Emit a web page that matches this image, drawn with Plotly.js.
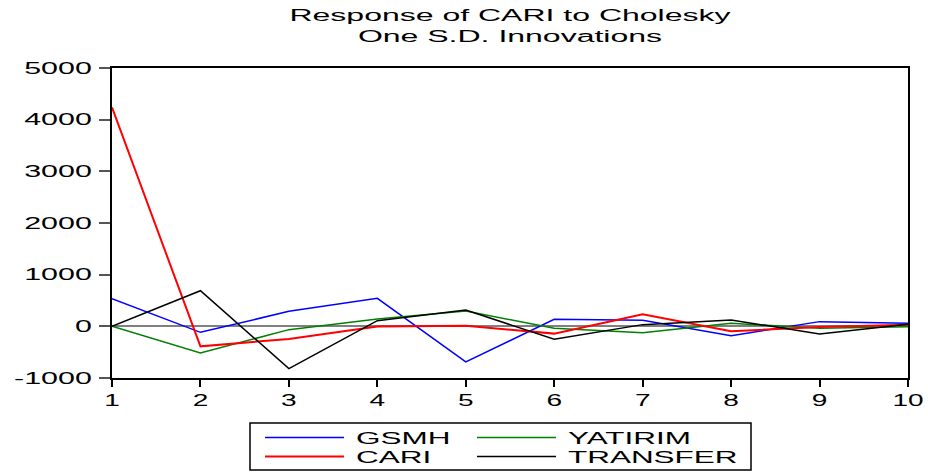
<!DOCTYPE html>
<html>
<head>
<meta charset="utf-8">
<script src="https://cdn.plot.ly/plotly-3.0.1.min.js"></script>
<style>
  html, body { margin: 0; padding: 0; background: #fff; }
  #chart { width: 928px; height: 473px; }
</style>
</head>
<body>
<div id="chart"></div>
<script>
const periods = [1, 2, 3, 4, 5, 6, 7, 8, 9, 10];
const gsmh     = [536, -116, 290, 542, -689, 135, 116, -180, 91, 58];
const yatirim  = [0, -516, -64, 143, 297, -39, -122, 58, -39, -10];
const cari     = [4236, -387, -244, -5, 13, -141, 232, -97, -13, 33];
const transfer = [0, 690, -818, 110, 317, -251, 33, 124, -147, 39];

const yTickVals = [-1000, 0, 1000, 2000, 3000, 4000, 5000];
const yTickText = ['-1000', '0', '1000', '2000', '3000', '4000', '5000'];
const xTickVals = [1, 2, 3, 4, 5, 6, 7, 8, 9, 10];
const xTickText = ['1', '2', '3', '4', '5', '6', '7', '8', '9', '10'];

const seriesNames = ['GSMH', 'YATIRIM', 'CARI', 'TRANSFER'];
const seriesData = [gsmh, yatirim, cari, transfer];
const seriesColors = ['#0000ff', '#008000', '#ff0000', '#000000'];
const seriesWidths = [1.5, 1.5, 2, 1.5];
const legendIds = ['legend', 'legend2', 'legend3', 'legend4'];

const font = 'Liberation Sans, Arial, sans-serif';

const traces = seriesNames.map((n, i) => ({
  x: periods,
  y: seriesData[i],
  name: n,
  type: 'scatter',
  mode: 'lines',
  line: { color: seriesColors[i], width: seriesWidths[i] },
  legend: legendIds[i],
  hoverinfo: 'skip'
}));

// plot area pixel geometry helpers
const L = 112, R = 908, T = 68, B = 378;
const px = v => (v - L) / (R - L);
const py = v => (B - v) / (B - T);

const legCommon = {
  xanchor: 'left', yanchor: 'middle',
  bgcolor: 'rgba(0,0,0,0)', borderwidth: 0,
  font: { family: font, size: 17, color: '#000' },
  itemwidth: 79,
  itemclick: false, itemdoubleclick: false
};

const layout = {
  width: 928, height: 473,
  margin: { l: L, r: 928 - R, t: T, b: 473 - B, autoexpand: false },
  paper_bgcolor: '#fff', plot_bgcolor: '#fff',
  showlegend: true,
  title: {
    text: 'Response of CARI to Cholesky<br>One S.D. Innovations',
    font: { family: font, size: 16, color: '#000' },
    xref: 'paper', x: 0.5, xanchor: 'center',
    yref: 'container', y: 0.955, yanchor: 'top'
  },
  xaxis: {
    range: [1, 10],
    tickvals: xTickVals, ticktext: xTickText,
    ticks: 'outside', ticklen: 7, tickwidth: 2, tickcolor: '#000',
    showline: true, linecolor: '#000', linewidth: 2, mirror: true,
    showgrid: false, zeroline: false,
    tickfont: { family: font, size: 16, color: '#000' }
  },
  yaxis: {
    range: [-1000, 5000],
    tickvals: yTickVals, ticktext: yTickText,
    ticks: 'outside', ticklen: 11, tickwidth: 2, tickcolor: '#555',
    showline: true, linecolor: '#000', linewidth: 2, mirror: true,
    showgrid: false,
    zeroline: true, zerolinecolor: '#808080', zerolinewidth: 2,
    tickfont: { family: font, size: 16, color: '#000' },
    ticklabelstandoff: 4
  },
  legend:  Object.assign({}, legCommon, { x: px(260), y: py(438) }),
  legend2: Object.assign({}, legCommon, { x: px(472), y: py(438) }),
  legend3: Object.assign({}, legCommon, { x: px(260), y: py(457) }),
  legend4: Object.assign({}, legCommon, { x: px(472), y: py(457) }),
  shapes: [{
    type: 'rect', xref: 'paper', yref: 'paper',
    x0: px(250), x1: px(751), y0: py(470), y1: py(423),
    line: { color: '#000', width: 1.5 }, fillcolor: 'rgba(0,0,0,0)'
  }]
};

// The reference's lettering is drawn horizontally stretched; widen each text run.
function stretch(el, factor) {
  if (el.getAttribute('data-stretched')) return;
  const w = el.getComputedTextLength();
  if (w > 0) {
    el.setAttribute('textLength', (w * factor).toFixed(1));
    el.setAttribute('lengthAdjust', 'spacingAndGlyphs');
    el.setAttribute('data-stretched', '1');
  }
}

function unclip(el, root) {
  let n = el.parentNode;
  while (n && n !== root) {
    if (n.removeAttribute) n.removeAttribute('clip-path');
    n = n.parentNode;
  }
}

function widenAll(gd) {
  gd.querySelectorAll('.gtitle').forEach(t => {
    const lines = t.querySelectorAll('tspan.line');
    if (lines.length) lines.forEach(s => stretch(s, 2.0));
    else stretch(t, 2.0);
  });
  gd.querySelectorAll('.ytick text').forEach(t => stretch(t, 1.9));
  gd.querySelectorAll('.xtick text').forEach(t => stretch(t, 1.75));
  gd.querySelectorAll('text').forEach(t => {
    if (seriesNames.includes(t.textContent.trim())) {
      unclip(t, gd);
      if (!t.getAttribute('data-stretched')) {
        stretch(t, 1.85);
        t.setAttribute('x', parseFloat(t.getAttribute('x') || 0) + 7);
      }
    }
  });
}

Plotly.newPlot('chart', traces, layout, { staticPlot: true, displayModeBar: false }).then(gd => {
  widenAll(gd);
  setTimeout(() => widenAll(gd), 50);
});
</script>
</body>
</html>
